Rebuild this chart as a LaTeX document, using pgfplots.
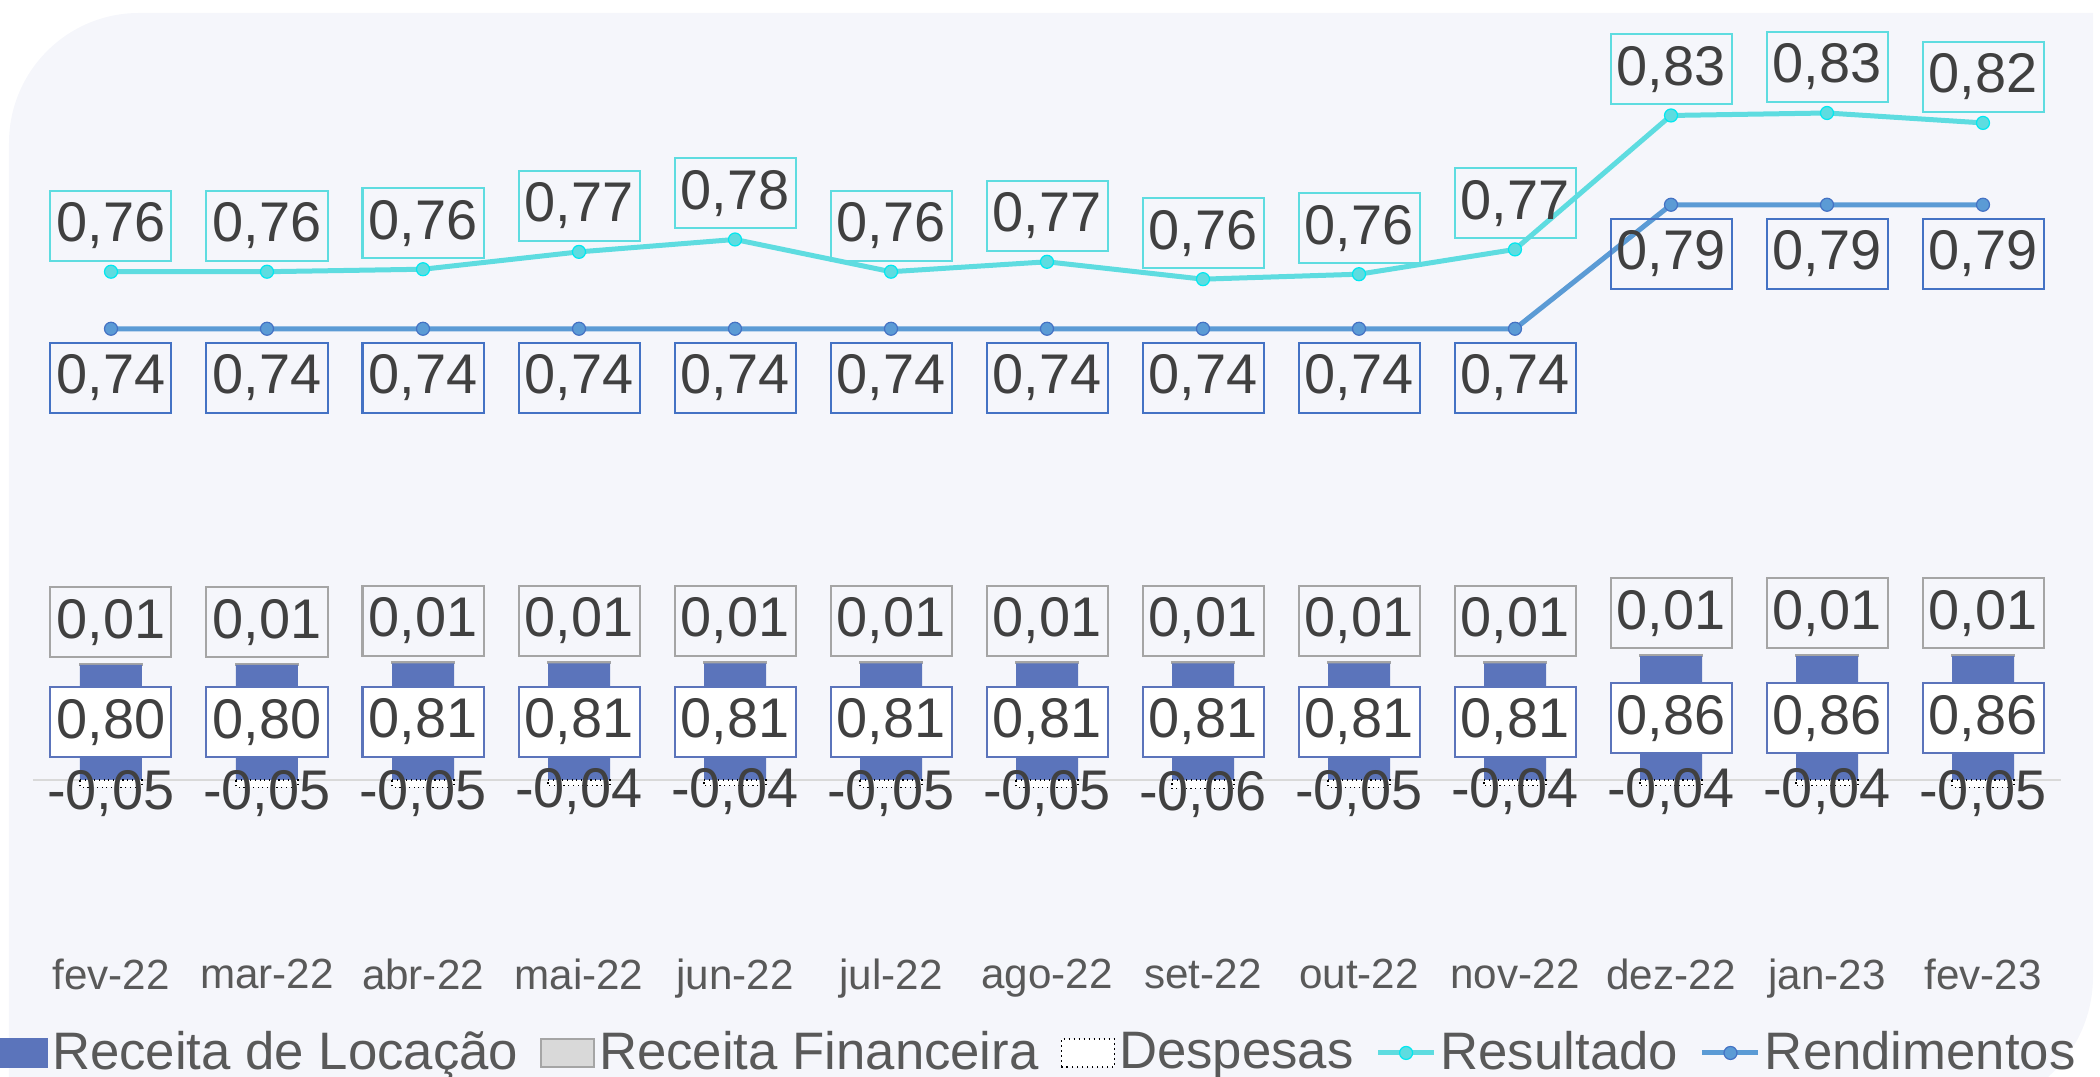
\documentclass[border=0pt]{standalone}
\usepackage{fontspec}
\setmainfont{Liberation Sans}
\usepackage{pgfplots}
\pgfplotsset{compat=1.18}

\definecolor{panel}{HTML}{F5F6FB}
\definecolor{locacao}{HTML}{5B74BB}
\definecolor{finfill}{HTML}{D9D9D9}
\definecolor{findraw}{HTML}{A5A5A5}
\definecolor{resline}{HTML}{5EDCE0}
\definecolor{resmark}{HTML}{00E8F0}
\definecolor{rendline}{HTML}{5B9BD5}
\definecolor{rendmark}{HTML}{4472C4}
\definecolor{txt}{HTML}{404040}
\definecolor{leg}{HTML}{595959}
\definecolor{zeroline}{HTML}{D9D9D9}

\tikzset{
  dlabel/.style={font=\fontsize{15.9}{18}\selectfont, text=txt,
    minimum width=1.21cm, minimum height=0.70cm, inner sep=0pt,
    anchor=center, line width=0.02cm},
}
\pgfplotsset{
  base/.style={scale only axis, width=20.28cm, height=8.72cm,
    at={(0.33cm,1.53cm)}, anchor=south west,
    xmin=-0.5, xmax=12.5, axis line style={draw=none},
    major tick length=0pt, xtick=\empty, ytick=\empty, clip=false},
  lbl/.style={nodes near coords={\pgfmathprintnumber[fixed,fixed zerofill,
    precision=2,use comma,assume math mode=true]{\pgfplotspointmeta}}},
  linelegend/.style={legend image code/.code={\draw[mark repeat=2,mark phase=2,##1]
    plot coordinates {(0cm,0cm) (0.28cm,0cm) (0.56cm,0cm)};}},
}

\begin{document}
\begin{tikzpicture}
\useasboundingbox (0,0) rectangle (21cm,10.77cm);
\fill[panel] (0.09,-0.344) -- (0.09,9.34) arc[start angle=180,end angle=90,radius=1.3]
  -- (20.93,10.64) -- (20.93,1.006) arc[start angle=0,end angle=-90,radius=1.35] -- cycle;

% barras empilhadas: Receita de Locacao + Receita Financeira
\begin{axis}[base, ybar stacked, bar width=0.62cm, ymin=-1, ymax=5.056,
  xtick={0,...,12},
  xticklabels={fev-22,mar-22,abr-22,mai-22,jun-22,jul-22,ago-22,set-22,out-22,nov-22,dez-22,jan-23,fev-23},
  xticklabel style={font=\fontsize{12}{14}\selectfont, text=leg, yshift=-0.23cm},
  extra y ticks={0}, extra y tick labels={},
  extra y tick style={grid=major, major grid style={draw=zeroline, line width=0.025cm}},
  lbl]
\addplot[fill=locacao, draw=none,
  every node near coord/.append style={dlabel, draw=locacao, fill=white}]
  coordinates {(0,0.80) (1,0.80) (2,0.81) (3,0.81) (4,0.81) (5,0.81) (6,0.81)
               (7,0.81) (8,0.81) (9,0.81) (10,0.86) (11,0.86) (12,0.86)};
\addplot[fill=finfill, draw=findraw, line width=0.015cm,
  every node near coord/.append style={dlabel, draw=findraw, yshift=0.42cm}]
  coordinates {(0,0.01) (1,0.01) (2,0.01) (3,0.01) (4,0.01) (5,0.01) (6,0.01)
               (7,0.01) (8,0.01) (9,0.01) (10,0.01) (11,0.01) (12,0.01)};
\end{axis}

% Despesas
\begin{axis}[base, ybar, bar width=0.62cm, ymin=-1, ymax=5.056, lbl]
\addplot[fill=white, draw=black, densely dotted, line width=0.012cm,
  every node near coord/.append style={dlabel, solid, yshift=-0.06cm}]
  coordinates {(0,-0.05) (1,-0.05) (2,-0.05) (3,-0.04) (4,-0.04) (5,-0.05) (6,-0.05)
               (7,-0.06) (8,-0.05) (9,-0.04) (10,-0.04) (11,-0.04) (12,-0.05)};
\end{axis}

% linhas (eixo secundario)
\begin{axis}[base, ymin=0.5, ymax=0.8516, lbl,
  legend columns=-1,
  legend style={at={(-0.0197,-0.1479)}, anchor=west, draw=none, fill=none,
    inner sep=0pt, font=\fontsize{15}{17}\selectfont, text=leg,
    nodes={inner sep=0.04cm},
    /tikz/every even column/.append style={column sep=0.18cm}}]
\addlegendimage{legend image code/.code={\fill[locacao] (0cm,-0.14cm) rectangle (0.53cm,0.14cm);}}
\addlegendentry{Receita de Locação}
\addlegendimage{legend image code/.code={\draw[fill=finfill, draw=findraw, line width=0.02cm] (0cm,-0.14cm) rectangle (0.53cm,0.14cm);}}
\addlegendentry{Receita Financeira}
\addlegendimage{legend image code/.code={\draw[fill=white, draw=black, densely dotted, line width=0.015cm] (0cm,-0.14cm) rectangle (0.53cm,0.14cm);}}
\addlegendentry{Despesas}
\addplot[resline, line width=0.05cm, mark=*, mark size=0.065cm,
  mark options={fill=resline, draw=resmark, line width=0.012cm},
  every node near coord/.append style={dlabel, draw=resline, yshift=0.46cm},
  linelegend]
  coordinates {(0,0.763) (1,0.763) (2,0.764) (3,0.771) (4,0.776) (5,0.763) (6,0.767)
               (7,0.760) (8,0.762) (9,0.772) (10,0.826) (11,0.827) (12,0.823)};
\addlegendentry{Resultado}
\addplot[rendline, line width=0.05cm, mark=*, mark size=0.065cm,
  mark options={fill=rendline, draw=rendmark, line width=0.012cm},
  every node near coord/.append style={dlabel, draw=rendmark, yshift=-0.49cm},
  linelegend]
  coordinates {(0,0.74) (1,0.74) (2,0.74) (3,0.74) (4,0.74) (5,0.74) (6,0.74)
               (7,0.74) (8,0.74) (9,0.74) (10,0.79) (11,0.79) (12,0.79)};
\addlegendentry{Rendimentos}
\end{axis}
\end{tikzpicture}
\end{document}
